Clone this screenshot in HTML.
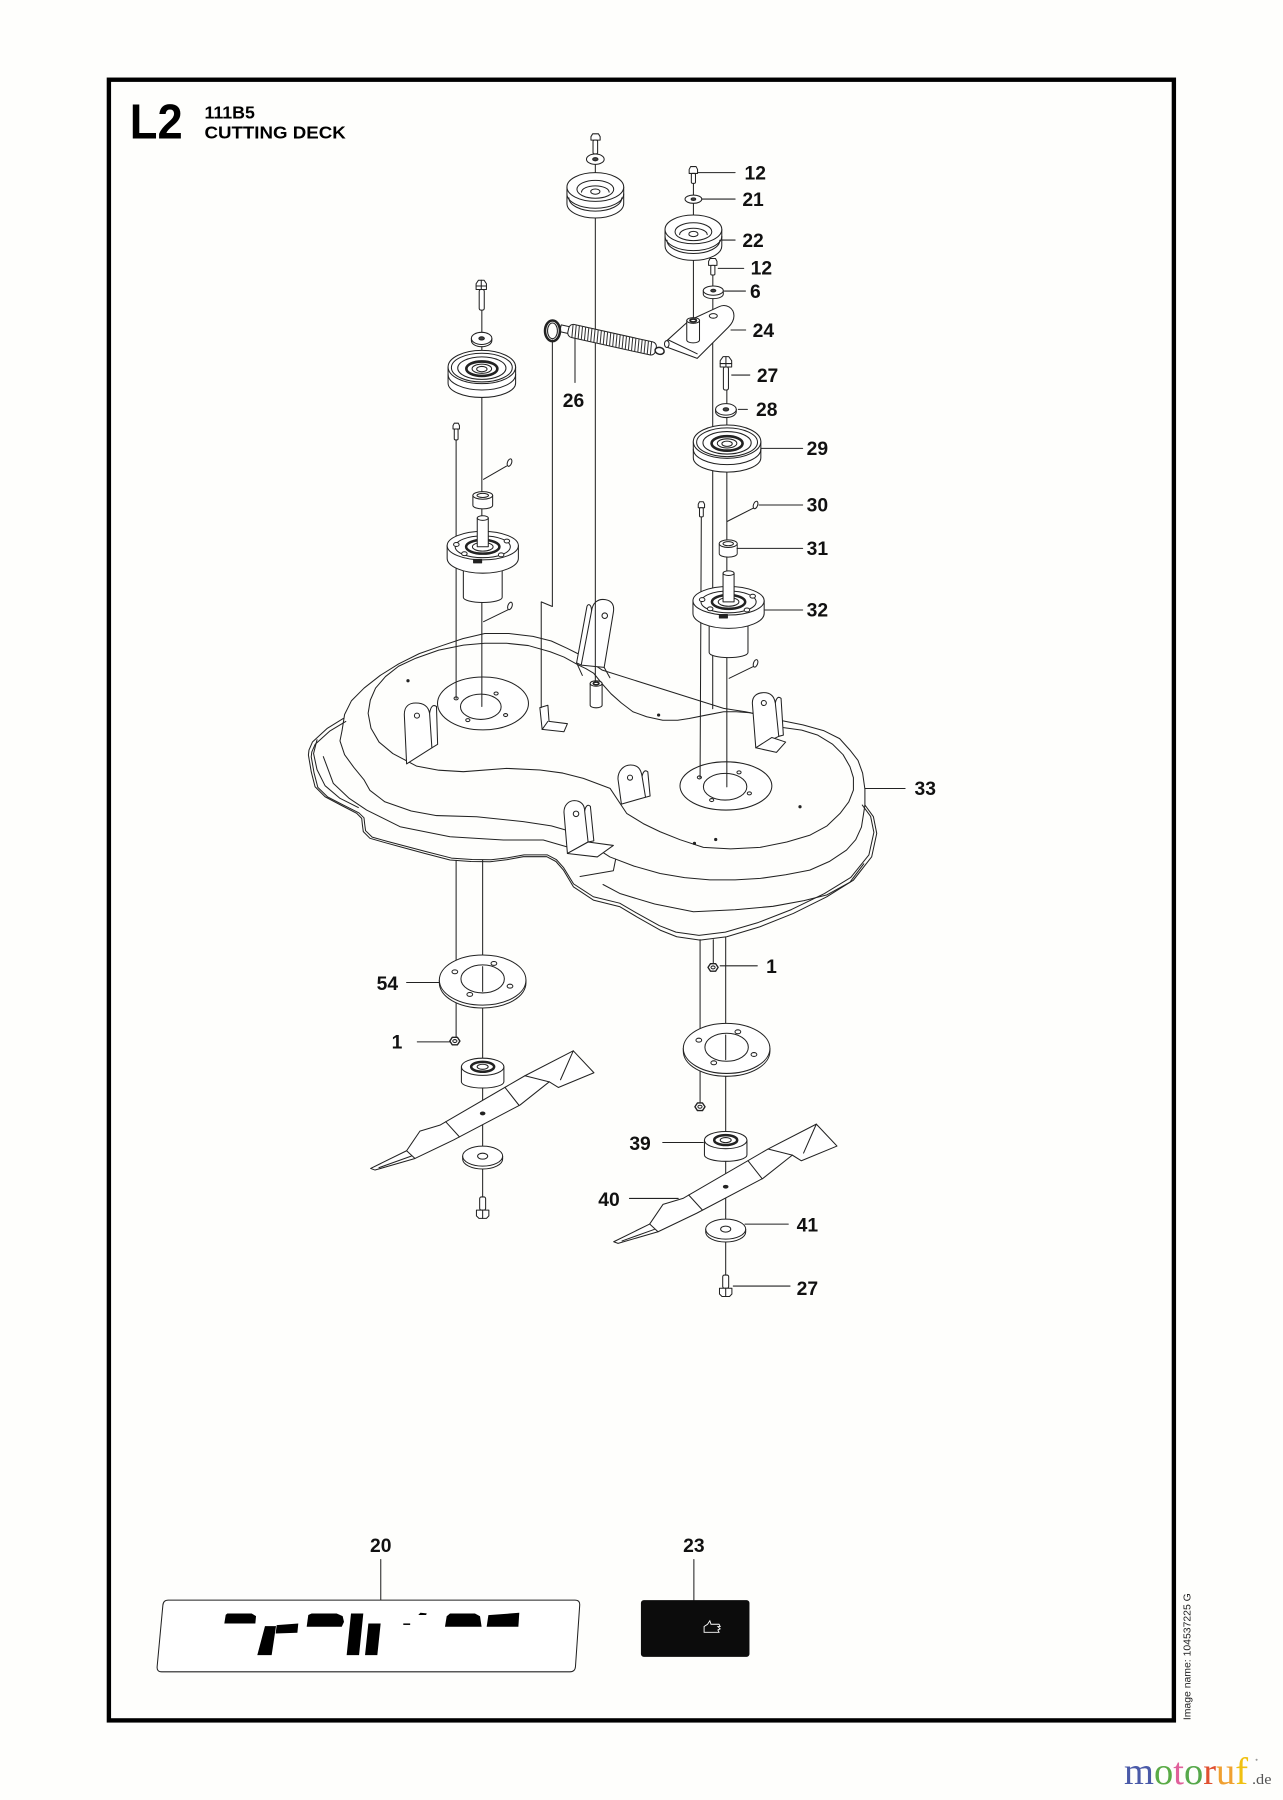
<!DOCTYPE html>
<html><head><meta charset="utf-8"><style>
html,body{margin:0;padding:0;background:#fefefc;}
svg{display:block;}
text{font-family:"Liberation Sans",Arial,sans-serif;}
.l{font-weight:bold;font-size:16.8px;fill:#111;}
</style></head><body>
<svg width="1283" height="1800" viewBox="0 0 1117 1567" preserveAspectRatio="none" xmlns="http://www.w3.org/2000/svg">
<rect x="0" y="0" width="1117" height="1567" fill="#fefefc"/>
<defs>
<g id="pA">
 <path d="M-24.7,12.5 V27 A24.7,12.5 0 0 0 24.7,27 V12.5 Z" fill="#fff"/>
 <ellipse cx="0" cy="12.5" rx="24.7" ry="12.5" fill="#fff"/>
 <path d="M-24.7,18.5 A24.7,12.5 0 0 0 24.7,18.5"/>
 <path d="M-23,22 A23,11.5 0 0 0 23,22"/>
 <ellipse cx="0" cy="14.5" rx="16" ry="7.8"/>
 <path d="M-12,17 A12,5.5 0 0 1 12,17"/>
 <ellipse cx="0" cy="16.5" rx="4" ry="2.3" fill="#fff"/>
</g>
<g id="pB">
 <path d="M-29.4,14.5 V28.5 A29.4,12.5 0 0 0 29.4,28.5 V14.5 Z" fill="#fff"/>
 <ellipse cx="0" cy="14.5" rx="29.4" ry="14.5" fill="#fff"/>
 <path d="M-29.4,21 A29.4,13.5 0 0 0 29.4,21"/>
 <ellipse cx="0" cy="15" rx="26.5" ry="12.5"/>
 <ellipse cx="0" cy="15.5" rx="21" ry="9.8"/>
 <ellipse cx="0" cy="16" rx="13.5" ry="6.3" stroke-width="2.3"/>
 <ellipse cx="0" cy="16" rx="8.5" ry="4"/>
 <ellipse cx="0" cy="16.3" rx="4.5" ry="2.3" fill="#fff"/>
</g>
<g id="sp">
 <path d="M-16.9,12 V45 A16.9,4.5 0 0 0 16.9,45 V12 Z" fill="#fff"/>
 <path d="M-31,0 V11 A31,13 0 0 0 31,11 V0 Z" fill="#fff"/>
 <ellipse cx="0" cy="0" rx="31" ry="12.4" fill="#fff"/>
 <ellipse cx="0" cy="1" rx="24" ry="9.5"/>
 <ellipse cx="0" cy="1" rx="14.5" ry="6" stroke-width="2.2"/>
 <ellipse cx="0" cy="1" rx="9" ry="3.8"/>
 <rect x="-4.8" y="-24" width="9.6" height="25" fill="#fff"/>
 <ellipse cx="0" cy="-24" rx="4.8" ry="2" fill="#fff"/>
 <ellipse cx="-23" cy="-1" rx="2.4" ry="1.7" fill="#fff"/>
 <ellipse cx="21" cy="-4" rx="2.4" ry="1.7" fill="#fff"/>
 <ellipse cx="16" cy="8" rx="2.4" ry="1.7" fill="#fff"/>
 <ellipse cx="-16" cy="7" rx="2.4" ry="1.7" fill="#fff"/>
 <rect x="-8" y="12" width="7" height="3" fill="#222"/>
</g>
<g id="bu">
 <path d="M-8.6,3.3 V12 A8.6,3 0 0 0 8.6,12 V3.3 Z" fill="#fff"/>
 <ellipse cx="0" cy="3.3" rx="8.6" ry="3.3" fill="#fff"/>
 <ellipse cx="0" cy="3.3" rx="5" ry="1.8"/>
</g>
<g id="bl">
 <polygon points="322.7,1017.2 354,1001.8 365.6,984.7 383,979.5 457,936.5 499.1,914.8 517.1,933.9 486.1,946.7 478.2,941.8 452.7,962 394.7,992.5 361.3,1008.5 326.5,1018.6" fill="#fff"/>
 <path d="M388,976.5 L400,989.7 M439.6,946.6 L452,962.4 M354,1001.8 L361.3,1008.5 M330,1016.5 L358,1006.5 M457,936.5 L478.2,941.8 M499.1,914.8 L488,940"/>
 <ellipse cx="420.2" cy="969.3" rx="2" ry="1.2" fill="#222"/>
</g>
<g id="br">
 <path d="M-18.5,0 V13 A18.5,5.5 0 0 0 18.5,13 V0 Z" fill="#fff"/>
 <ellipse cx="0" cy="0" rx="18.5" ry="7.5" fill="#fff"/>
 <ellipse cx="0" cy="0" rx="10" ry="4.3" stroke-width="2.2"/>
 <ellipse cx="0" cy="0" rx="4.8" ry="2.2" fill="#fff"/>
</g>
<g id="wb">
 <path d="M-17.4,0 V2.5 A17.4,8.7 0 0 0 17.4,2.5 V0 Z" fill="#fff"/>
 <ellipse cx="0" cy="0" rx="17.4" ry="8.7" fill="#fff"/>
 <ellipse cx="0" cy="0" rx="4.4" ry="2.6" fill="#fff"/>
</g>
<g id="pl">
 <path d="M-37.7,0 V2.5 A37.7,21.8 0 0 0 37.7,2.5 V0 Z" fill="#fff"/>
 <ellipse cx="0" cy="0" rx="37.7" ry="21.8" fill="#fff"/>
 <ellipse cx="0" cy="-1" rx="18.9" ry="12.2" fill="#fff"/>
 <ellipse cx="-24.2" cy="-7.2" rx="2.5" ry="1.7" fill="#fff"/>
 <ellipse cx="9.8" cy="-14.5" rx="2.5" ry="1.7" fill="#fff"/>
 <ellipse cx="23.8" cy="5.3" rx="2.5" ry="1.7" fill="#fff"/>
 <ellipse cx="-11.2" cy="12.5" rx="2.5" ry="1.7" fill="#fff"/>
</g>
<g id="nt">
 <polygon points="-4.4,0 -2.2,-3.3 2.2,-3.3 4.4,0 2.2,3.3 -2.2,3.3" fill="#fff" stroke-width="1.2"/>
 <ellipse cx="0" cy="0" rx="1.8" ry="1.3"/>
</g>
</defs>

<!-- frame -->
<rect x="94.8" y="69.4" width="927.2" height="1428.3" fill="none" stroke="#000" stroke-width="3.8"/>

<!-- title -->
<text x="113" y="120.4" font-size="42.5" font-weight="bold" fill="#000" textLength="46" lengthAdjust="spacingAndGlyphs">L2</text>
<text x="178" y="103" font-size="15.5" font-weight="bold" fill="#000">111B5</text>
<text x="178" y="120.4" font-size="15.5" font-weight="bold" fill="#000" textLength="123" lengthAdjust="spacingAndGlyphs">CUTTING DECK</text>

<g fill="none" stroke="#222" stroke-width="0.9" stroke-linejoin="round" stroke-linecap="round">
<!-- DECK -->
<polyline points="298.9,625.4 285,634 272,646 269,653 268.5,657.3 271,672 274.3,684.9 283,693.6 297,701 310.5,708 314.9,712.4 315.5,718 316.3,724 322.1,729.8 335,733.5 348.3,737.1 370,743 391.8,748.7 410,750 426.6,750.2 441,748.5 455.6,745.8 476,745.8 484,750 490.5,757.4 499.2,772 516.6,783.6 539.8,789.4 554.3,798.1 574.7,809.7 589.2,815.5 609.5,818.4 632.7,815.5 661.7,806.8 690.7,795.2 719.8,780.7 743,766.2 758.9,745.9 763.3,725.5 760.4,711 753.1,700.9"/>
<polyline points="298.9,625.4 285,634 272,646 269,653 268.5,657.3 271,672 274.3,684.9 283,693.6 297,701 310.5,708 314.9,712.4 315.5,718 316.3,724 322.1,729.8 335,733.5 348.3,737.1 370,743 391.8,748.7 410,750 426.6,750.2 441,748.5 455.6,745.8 476,745.8 484,750 490.5,757.4 499.2,772 516.6,783.6 539.8,789.4 554.3,798.1 574.7,809.7 589.2,815.5 609.5,818.4 632.7,815.5 661.7,806.8 690.7,795.2 719.8,780.7 743,766.2 758.9,745.9 763.3,725.5 760.4,711 753.1,700.9" transform="translate(515,700) scale(0.99,0.965) translate(-515,-700)"/>
<polyline points="276,644 273,656 276,670 283,684 296,695 312,703"/>
<polyline points="281.5,658.7 290.2,682 304,695 319.2,705.2 348.3,719.7 391.8,728.4 438.2,731.3 473,731.3 493.3,737.1"/>
<polyline points="525,770 540,778 570,787 603.7,793.7 640,792 673,789 700,784 720,779 740,768 752,752"/>
<!-- dome top edge -->
<polyline points="297.8,636 300,622 306,610 317,599 331,588 347,578 365,569 385,562 403,556 422,551.5 443,551.5 464,554 480,558 494,564.5 503,569 509,573 524.4,583.4 630,616.7 649,619.6 665,623 679,627 699,631 717,636 731,643 740,653 747,662 751,673 753,687 753,702"/>
<!-- dome lower edge -->
<polyline points="297.8,636 296,645 300,657 308,668 317,679 322,688 335,698 358,706 380,710 415,711 455.6,715.3 480,719 494,723 506,729 517,737 531,746 552,754 574.7,760.4 596,764 618,766 640,766 662,764.7 684,761.5 705,757.5 722,750 737,740 745,731 750,720 753,701"/>
<!-- inner flat outline -->
<polyline points="503.6,579 491,572 479,567.4 460,562 441,560 422,560 403.5,561.6 382,566 362,573 347,580 335.6,589 327,599 322.4,609.5 320.5,621 323,634 330,646 342,656 362.8,667 382,670.5 403.4,671.8 441.1,668.9 470.2,670.3 490,673 507.9,677.6 531.1,686.3 545.6,708.1 560,717 574.7,724.1 592,731 612.4,737.7 636,739 661.7,737.7 685,733 705.3,727 720,719 731.4,708.1 739,698 743,687.8 743,677 740,667.5 734,657 725,648 712,640 698,635.6 679,633"/>
<!-- channel -->
<polyline points="503.6,579 510,582 516.8,586 524,595 532,604 541,612 551,619.6 563,624 577,627 590,627 600,625.5 615,622.5 630,619.6 641,619.6 653,620.5 666,623.5 679,627"/>

<!-- discs -->
<ellipse cx="420.5" cy="612.4" rx="39.6" ry="23" fill="#fff"/>
<ellipse cx="418.6" cy="615.3" rx="17.7" ry="11" fill="#fff"/>
<ellipse cx="632" cy="684.2" rx="40" ry="21" fill="#fff"/>
<ellipse cx="631.3" cy="684.9" rx="18.9" ry="11.6" fill="#fff"/>
<g fill="#fff">
<ellipse cx="397.1" cy="608" rx="1.8" ry="1.3"/><ellipse cx="431.9" cy="603.7" rx="1.8" ry="1.3"/><ellipse cx="440.2" cy="622.5" rx="1.8" ry="1.3"/><ellipse cx="407.3" cy="626.9" rx="1.8" ry="1.3"/>
<ellipse cx="608.9" cy="676.8" rx="1.8" ry="1.3"/><ellipse cx="643.4" cy="672.4" rx="1.8" ry="1.3"/><ellipse cx="652.4" cy="690.7" rx="1.8" ry="1.3"/><ellipse cx="619.6" cy="696.5" rx="1.8" ry="1.3"/>
</g>
<g fill="#222" stroke="none">
<circle cx="355.2" cy="592.6" r="1.4"/><circle cx="573.4" cy="622.5" r="1.4"/><circle cx="696.5" cy="702.3" r="1.4"/><circle cx="604.6" cy="734.2" r="1.4"/><circle cx="623.1" cy="730.8" r="1.4"/>
</g>

<!-- tabs -->
<path d="M374,621 C375,615 377,613 380,615 L381,648 L376,651" fill="#fff"/>
<path d="M354,665 L352,622 C352,615 356,612 362,612 C369,612 373,615 374,621 L376,651 Z" fill="#fff"/>
<circle cx="363" cy="623" r="2.2"/>

<path d="M675,612 C676,607 678,606 680,608 L682,640 L678,641" fill="#fff"/>
<path d="M658,651 L655,612 C655,606 659,603 665,603 C671,603 674,606 675,612 L678,641 Z" fill="#fff"/>
<path d="M658,651 L672,642 L684,646 L676,655 Z" fill="#fff"/>
<circle cx="665" cy="612" r="2.2"/>

<path d="M509,706 C510,701 512,700 514,702 L517,732 L512,733" fill="#fff"/>
<path d="M494,743 L491,707 C491,701 495,697 500,697 C506,697 509,701 509,706 L512,733 Z" fill="#fff"/>
<path d="M494,743 L512,733 L534,736 L520,746 Z" fill="#fff"/>
<path d="M505,763 L534,758 L536,748"/>
<circle cx="501.5" cy="708.5" r="2.4"/>

<path d="M559,676 C560,671 562,670 564,672 L566,693 L562,694" fill="#fff"/>
<path d="M541,700 L538,678 C538,671 543,666 549,666 C555,666 558,669 559,676 L562,694 Z" fill="#fff"/>
<circle cx="548.5" cy="677" r="2.2"/>

<path d="M515,532 C515,526 512,525 511,528 L502,577 L506,579" fill="#fff"/>
<path d="M506,579 L515,532 C516,525 520,521 527,522 C533,523 535,527 534,533 L526,581 Z" fill="#fff"/>
<path d="M526,581 L531,590 M502,577 L507,588"/>
<circle cx="526.5" cy="536" r="2.4"/>
<path d="M513.8,595 V614 A5.2,2.2 0 0 0 524.2,614 V595" fill="#fff"/>
<ellipse cx="519" cy="595" rx="5.2" ry="2.4" fill="#fff"/>
<ellipse cx="519" cy="595" rx="2.5" ry="1.2" stroke-width="1.4"/>

<path d="M470,616 L477,614 L478,628 L494,630 L491,637 L472,635 Z" fill="#fff"/>
<path d="M472,635 L477,628"/>

<!-- LINES upper -->
<path d="M518.3,128 V594 M603.7,150 V280 M620.6,235 V275 M620.5,298.5 V617 M632.8,330 V685 M610.6,445 L609.5,677 M419.5,262 V615 M397.1,378 V608 M500.6,290 V333"/>
<polyline points="480.9,296 480.9,528 471.2,524 471.2,616"/>
<path d="M441,405.7 L421,417.3 M442,531 L421,541.2 M655.6,442.5 L633,454 M655.6,580.4 L634.8,590.5"/>
<!-- LINES lower -->
<path d="M397.1,749 V906 M420.2,749 V1050 M609.5,818 V963 M621,818 V842 M631.8,816 V1120"/>

<!-- keys -->
<ellipse cx="443.6" cy="402.7" rx="1.8" ry="3.4" fill="#fff" transform="rotate(20 443.6 402.7)"/>
<ellipse cx="444" cy="527.5" rx="1.8" ry="3.4" fill="#fff" transform="rotate(20 444 527.5)"/>
<ellipse cx="657.8" cy="439.6" rx="1.8" ry="3.4" fill="#fff" transform="rotate(20 657.8 439.6)"/>
<ellipse cx="657.8" cy="577.5" rx="1.8" ry="3.4" fill="#fff" transform="rotate(20 657.8 577.5)"/>

<!-- TOP CENTER PULLEY -->
<path d="M514.5,119 L516,116.5 L521,116.5 L522.5,119 L522.5,122 L514.5,122 Z" fill="#fff"/>
<rect x="516.3" y="122" width="4" height="12" rx="1.2" fill="#fff"/>
<ellipse cx="518.3" cy="138.6" rx="7.7" ry="4.5" fill="#fff"/>
<ellipse cx="518.3" cy="138.6" rx="2.3" ry="1.4" fill="#444"/>
<use href="#pA" x="518.3" y="150.3"/>

<!-- PULLEY 22 group -->
<path d="M600,147.5 L601.3,145 L606,145 L607.3,147.5 L607.3,151 L600,151 Z" fill="#fff"/>
<rect x="601.9" y="151" width="3.6" height="8.6" rx="1" fill="#fff"/>
<ellipse cx="603.7" cy="173.4" rx="7.3" ry="3.6" fill="#fff"/>
<ellipse cx="603.7" cy="173.4" rx="2" ry="1.1" fill="#444"/>
<use href="#pA" x="603.7" y="187.2"/>
<path d="M616.9,227.5 L618.2,225 L622.9,225 L624.2,227.5 L624.2,231 L616.9,231 Z" fill="#fff"/>
<rect x="618.8" y="231" width="3.6" height="8.4" rx="1" fill="#fff"/>
<path d="M612.3,253 V256 A8.7,4 0 0 0 629.7,256 V253 Z" fill="#fff"/>
<ellipse cx="621" cy="253" rx="8.7" ry="4" fill="#fff"/>
<ellipse cx="621" cy="253" rx="2.2" ry="1.2" fill="#444"/>

<!-- bracket 24 -->
<path d="M579,298 L600,279 L626,267 C632,264 639,268 639,275 C639,279 637,282 634,285 L607,312 L580,302 Z" fill="#fff"/>
<path d="M582,296 L607,308"/>
<ellipse cx="580.5" cy="299.5" rx="2" ry="3" fill="#fff"/>
<ellipse cx="621" cy="275" rx="3.5" ry="2" fill="#fff"/>
<path d="M597.9,279 V296 A5.55,2.5 0 0 0 609,296 V279" fill="#fff"/>
<ellipse cx="603.5" cy="279" rx="5.55" ry="2.5" fill="#fff"/>
<ellipse cx="603.5" cy="279" rx="2.8" ry="1.3" stroke-width="1.5"/>

<!-- spring 26 -->
<g transform="translate(494.8,287.3) rotate(12.5)">
 <rect x="-7" y="-3" width="8" height="6" fill="#fff"/>
 <rect x="0" y="-5.8" width="78" height="11.6" rx="4" fill="#fff"/>
 <path stroke="#333" d="M3,-5.6l1.4,11.2M5.8,-5.6l1.4,11.2M8.6,-5.6l1.4,11.2M11.4,-5.6l1.4,11.2M14.2,-5.6l1.4,11.2M17,-5.6l1.4,11.2M19.8,-5.6l1.4,11.2M22.6,-5.6l1.4,11.2M25.4,-5.6l1.4,11.2M28.2,-5.6l1.4,11.2M31,-5.6l1.4,11.2M33.8,-5.6l1.4,11.2M36.6,-5.6l1.4,11.2M39.4,-5.6l1.4,11.2M42.2,-5.6l1.4,11.2M45,-5.6l1.4,11.2M47.8,-5.6l1.4,11.2M50.6,-5.6l1.4,11.2M53.4,-5.6l1.4,11.2M56.2,-5.6l1.4,11.2M59,-5.6l1.4,11.2M61.8,-5.6l1.4,11.2M64.6,-5.6l1.4,11.2M67.4,-5.6l1.4,11.2M70.2,-5.6l1.4,11.2M73,-5.6l1.4,11.2"/>
 <ellipse cx="81.5" cy="0.5" rx="4" ry="3" fill="#fff" stroke-width="1.3"/>
</g>
<ellipse cx="481" cy="288" rx="6.5" ry="9" fill="none" stroke-width="2.2"/>
<ellipse cx="481" cy="288" rx="4.3" ry="6.8"/>

<!-- LEFT COLUMN -->
<path d="M414.5,247 L416.5,244 L421.5,244 L423.5,247 L423.5,252 L414.5,252 Z" fill="#fff"/>
<path d="M414.5,249 H423.5 M419,244 V252"/>
<rect x="417.2" y="252" width="4.4" height="18" rx="1.5" fill="#fff"/>
<path d="M410.4,294.6 V296.5 A8.9,5.3 0 0 0 428.2,296.5 V294.6 Z" fill="#fff"/>
<ellipse cx="419.3" cy="294.6" rx="8.9" ry="5.3" fill="#fff"/>
<ellipse cx="419.3" cy="294.6" rx="2.4" ry="1.4" fill="#444"/>
<use href="#pB" x="419.5" y="305"/>
<path d="M394.4,370.5 L395.5,368.4 L399,368.4 L400,370.5 L400,373.5 L394.4,373.5 Z" fill="#fff"/>
<rect x="395.5" y="373.5" width="3.3" height="9.5" rx="1" fill="#fff"/>
<use href="#bu" x="420.3" y="428"/>
<use href="#sp" x="420.3" y="475"/>

<!-- RIGHT COLUMN -->
<path d="M627,314 L629.5,310.5 L634.5,310.5 L637,314 L637,319.5 L627,319.5 Z" fill="#fff"/>
<path d="M627,316.5 H637 M632,310.5 V319.5"/>
<rect x="629.8" y="319.5" width="4.4" height="20" rx="1.5" fill="#fff"/>
<path d="M623,356.4 V358.5 A9,5 0 0 0 641,358.5 V356.4 Z" fill="#fff"/>
<ellipse cx="632" cy="356.4" rx="9" ry="5" fill="#fff"/>
<ellipse cx="632" cy="356.4" rx="2.4" ry="1.4" fill="#444"/>
<use href="#pB" x="633" y="370"/>
<path d="M607.9,439 L609,436.8 L612.3,436.8 L613.4,439 L613.4,442 L607.9,442 Z" fill="#fff"/>
<rect x="609" y="442" width="3.3" height="8" rx="1" fill="#fff"/>
<use href="#bu" x="634" y="470" transform="translate(634,470) scale(0.91,1) translate(-634,-470)"/>
<use href="#sp" x="634.3" y="523"/>

<!-- BELOW DECK -->
<use href="#pl" x="420.2" y="853.2"/>
<use href="#pl" x="632.6" y="912.7"/>
<path d="M420.2,841.5 V863 M631.8,901 V922.5"/>
<use href="#nt" x="396" y="906.3"/>
<use href="#nt" x="620.8" y="842.2"/>
<use href="#nt" x="609.4" y="963.5"/>
<use href="#br" x="420.2" y="928.7"/>
<use href="#bl"/>
<use href="#wb" x="420.2" y="1006.5"/>
<use href="#br" x="631.8" y="992.5"/>
<use href="#bl" transform="translate(211.6,63.8)"/>
<use href="#wb" x="631.8" y="1070"/>
<rect x="417.6" y="1042" width="5.2" height="11.5" rx="1.5" fill="#fff"/>
<path d="M414.8,1053.5 H425.6 V1058.5 L423.5,1060.7 H417 L414.8,1058.5 Z" fill="#fff"/>
<path d="M420.2,1053.5 V1060.7"/>
<rect x="629.2" y="1110" width="5.2" height="11.5" rx="1.5" fill="#fff"/>
<path d="M626.4,1121.5 H637.2 V1126.5 L635.1,1128.7 H628.6 L626.4,1126.5 Z" fill="#fff"/>
<path d="M631.8,1121.5 V1128.7"/>

<!-- LEADERS -->
<path d="M607.5,150.3 H640 M611,173.3 H640 M628.3,209 H640 M625.3,233.6 H647.5 M630.7,253.4 H649 M636.4,287.3 H649.2 M637,326.5 H652.8 M642.8,356.4 H650.7 M662.5,390.3 H698.8 M660.8,439.6 H698.8 M641.7,477.4 H698.8 M666,531 H698.8 M753,686.4 H788 M627,840.8 H659.3 M354,855.3 H382.5 M363.3,907 H391.8 M577,994.6 H612.3 M548,1043.3 H590.5 M648.6,1065.7 H686.3 M638.4,1119.6 H687.8 M331.5,1357.6 V1393 M604.1,1357.6 V1393"/>

<!-- decal 20 -->
<path d="M146.5,1393 L500.6,1393 Q505,1393 504.7,1397.4 L501,1451 Q500.6,1455.4 496.2,1455.4 L140.8,1455.4 Q136.4,1455.4 136.8,1451 L141.8,1397.4 Q142.2,1393 146.5,1393 Z" fill="#fff"/>
</g>

<g fill="#000">
<polygon points="195.3,1413.3 196.5,1405.8 197.9,1404.6 219.1,1404.6 222.9,1406.9 222.3,1413.3"/>
<polygon points="230.7,1415.6 240.3,1415.6 236.5,1440.9 224,1440.9"/>
<polygon points="240.9,1414.8 259.7,1413.3 258.9,1421.4 240,1422"/>
<polygon points="267,1416.2 268.4,1406 271.3,1404.6 293.1,1404.6 298.3,1406.9 299.5,1411.9 297.5,1416.2"/>
<polygon points="305.6,1404.6 316.3,1404.6 312.6,1440.9 301.8,1440.9"/>
<polygon points="320.7,1413.3 331.4,1413.3 328.5,1440.9 317.8,1440.9"/>
<rect x="351.1" y="1413.3" width="6" height="1.3"/>
<polygon points="364.2,1406 366,1404 371.5,1404.5 371,1406"/>
<polygon points="387.4,1416.2 388.9,1407 391.8,1404.6 413.5,1404.6 417.9,1407 419.3,1416.2"/>
<polygon points="425.2,1406.1 452.1,1404 451.3,1416.2 423.7,1416.2"/>
</g>

<!-- decal 23 -->
<rect x="558" y="1393" width="94.5" height="49.4" rx="2.5" fill="#0c0c0c"/>
<path d="M613,1421 L613,1416 L616,1414 L618,1411 L619,1414 L626,1414 L627,1416 L625,1416 L627,1418 L625,1419 L626,1421 Z" stroke="#fff" fill="none" stroke-width="0.8"/>

<!-- labels -->
<text class="l" x="648.2" y="156.2">12</text>
<text class="l" x="646.3" y="179.2">21</text>
<text class="l" x="646.3" y="214.9">22</text>
<text class="l" x="653.5" y="239">12</text>
<text class="l" x="653" y="259.3">6</text>
<text class="l" x="655.3" y="293.2">24</text>
<text class="l" x="658.9" y="332.4">27</text>
<text class="l" x="658.2" y="362.3">28</text>
<text class="l" x="702.3" y="396.2">29</text>
<text class="l" x="702.3" y="445.5">30</text>
<text class="l" x="702.3" y="483.3">31</text>
<text class="l" x="702.3" y="536.9">32</text>
<text class="l" x="796.2" y="692.3">33</text>
<text class="l" x="667" y="846.9">1</text>
<text class="l" x="327.9" y="862">54</text>
<text class="l" x="341" y="912.7">1</text>
<text class="l" x="547.9" y="1001.2">39</text>
<text class="l" x="520.9" y="1050">40</text>
<text class="l" x="693.6" y="1072.3">41</text>
<text class="l" x="693.6" y="1127.5">27</text>
<text class="l" x="490" y="354.4">26</text>
<text class="l" x="331.5" y="1351" text-anchor="middle">20</text>
<text class="l" x="604.1" y="1351" text-anchor="middle">23</text>

<!-- image name -->
<text transform="translate(1036.5,1497.5) rotate(-90)" font-size="9" fill="#222" textLength="110.5" lengthAdjust="spacingAndGlyphs">Image name: 104537225 G</text>

<!-- watermark -->
<text x="978.6" y="1553.2" style="font-family:'Liberation Serif',serif;font-size:33.5px;" textLength="108" lengthAdjust="spacingAndGlyphs"><tspan fill="#4a5aa8">m</tspan><tspan fill="#5aab46">o</tspan><tspan fill="#e0609a">t</tspan><tspan fill="#56a84a">o</tspan><tspan fill="#e05030">r</tspan><tspan fill="#f0a030">u</tspan><tspan fill="#f0c010">f</tspan></text>
<text x="1090" y="1553.2" style="font-family:'Liberation Serif',serif;font-size:12.5px;" fill="#555" textLength="17" lengthAdjust="spacingAndGlyphs">.de</text>
<circle cx="1094" cy="1532" r="0.9" fill="#999"/>
</svg>
</body></html>
